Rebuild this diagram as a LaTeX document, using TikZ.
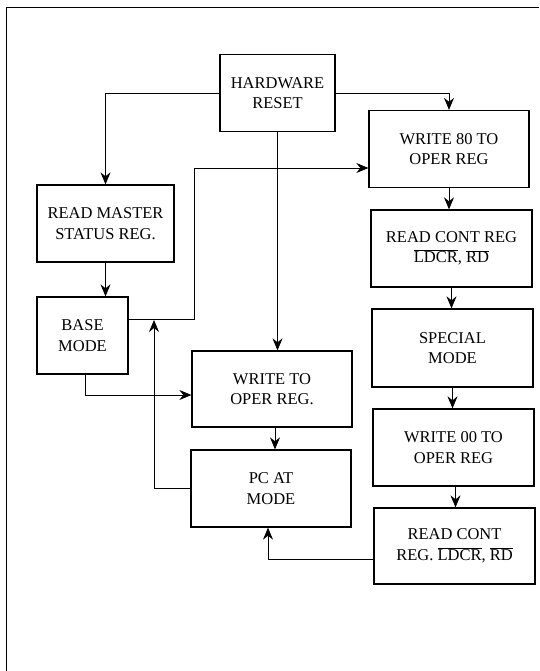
\documentclass[tikz,border=0pt]{standalone}
\usepackage{fontspec}
\setmainfont{Liberation Serif}
\usetikzlibrary{arrows.meta}
\begin{document}
\begin{tikzpicture}[x=1pt,y=-1pt]

        \useasboundingbox (0,0) rectangle (539,671);
        \draw[line width=0.9pt] (6,671) -- (6,7) -- (539,7);

        \begin{scope}[every node/.style={draw,line width=1.3pt,align=center,inner sep=0pt,
            minimum width=160pt,minimum height=77pt,font=\fontsize{16.5}{20.5}\selectfont}]
          \node (hw)   at (277.5,93)  [minimum width=115pt] {HARDWARE\\RESET};
          \node (wr80) at (449,149)   {WRITE 80 TO\\OPER REG};
          \node (rdc1) at (451.5,248.5) [minimum width=161pt] {READ CONT REG\\$\overline{\mbox{LDCR}}$, $\overline{\mbox{RD}}$};
          \node (spec) at (452.5,348) [minimum width=161pt,minimum height=78pt] {SPECIAL\\MODE};
          \node (wr00) at (453.5,447.5) [minimum width=161pt] {WRITE 00 TO\\OPER REG};
          \node (rdc2) at (454.5,546) [minimum width=161pt,minimum height=76pt] {READ CONT\\REG. $\overline{\mbox{LDCR}}$, $\overline{\mbox{RD}}$};
          \node (rms)  at (105.5,223.5) [minimum width=137pt] {READ MASTER\\STATUS REG.};
          \node (base) at (82.5,335.5) [minimum width=91pt] {BASE\\MODE};
          \node (wrto) at (272,389)   [minimum height=76pt] {WRITE TO\\OPER REG.};
          \node (pcat) at (271,488.5) {PC AT\\MODE};
        \end{scope}

        \coordinate (up) at (154,320);
        \coordinate (bend) at (194,319);

        \begin{scope}[line width=0.7pt,>={Stealth[length=12pt,width=10pt,inset=4pt]}]
          \draw[->] (hw.west) -| (rms.north);
          \draw[->] (hw.east) -| (wr80.north);
          \draw[->] (hw.south) -- (hw.south |- wrto.north);
          \draw[->] (wr80.south) -- (wr80.south |- rdc1.north);
          \draw[->] (rdc1.south) -- (rdc1.south |- spec.north);
          \draw[->] (spec.south) -- (spec.south |- wr00.north);
          \draw[->] ([xshift=2pt]wr00.south) -- ([xshift=2pt]wr00.south |- rdc2.north);
          \draw[->] (rms.south) -- (rms.south |- base.north);
          \draw[->] (base.east |- bend) -- (bend) |- ([yshift=-19pt]wr80.west);
          \draw[->] ([xshift=3pt]base.south) |- ([yshift=-6pt]wrto.west);
          \draw[->] ([xshift=3pt]wrto.south) -- ([xshift=3pt]wrto.south |- pcat.north);
          \draw[->] (pcat.west) -| (up);
          \draw[->] ([yshift=-13pt]rdc2.west) -| ([xshift=-3pt]pcat.south);
        \end{scope}

      \end{tikzpicture}
\end{document}
